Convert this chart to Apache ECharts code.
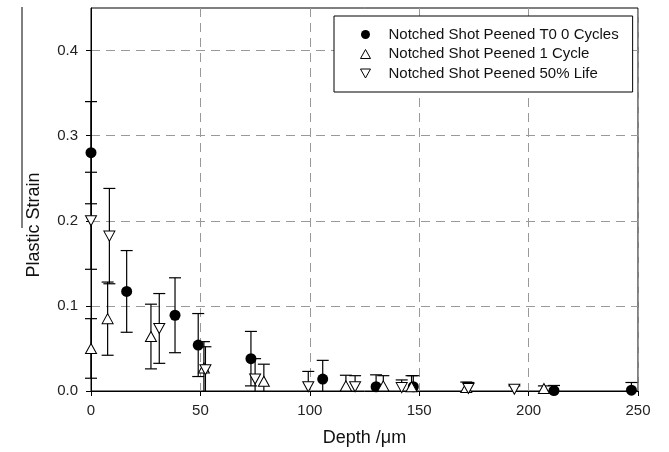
<!DOCTYPE html>
<html>
<head>
<meta charset="utf-8">
<script src="https://cdn.jsdelivr.net/npm/echarts@6/dist/echarts.min.js"></script>
<style>
  html, body { margin: 0; padding: 0; background: #fff; }
  #chart { width: 669px; height: 452px; }
</style>
</head>
<body>
<div id="chart"></div>
<script>
// Notched Shot Peened T0 0 Cycles
const t0Depth  = [0, 16.3, 38.4, 49, 73.1, 105.9, 130.3, 147.3, 211.6, 247];
const t0Strain = [0.280, 0.117, 0.089, 0.054, 0.038, 0.014, 0.005, 0.005, 0.0005, 0.001];
const t0Err    = [0.060, 0.048, 0.044, 0.037, 0.032, 0.022, 0.014, 0.013, 0.006, 0.009];

// Notched Shot Peened 1 Cycle
const cyc1Depth  = [0, 7.6, 27.4, 51.6, 79, 116.5, 133.6, 146.5, 171.5, 207];
const cyc1Strain = [0.050, 0.085, 0.064, 0.027, 0.0115, 0.006, 0.006, 0.005, 0.004, 0.003];
const cyc1Err    = [0.035, 0.043, 0.038, 0.031, 0.020, 0.0125, 0.012, 0.013, 0.0065, 0.003];

// Notched Shot Peened 50% Life
const lifeDepth  = [0, 8.4, 31.2, 52.3, 75, 99.3, 120.7, 142, 172.5, 193.5];
const lifeStrain = [0.200, 0.182, 0.0735, 0.025, 0.014, 0.005, 0.005, 0.004, 0.003, 0.002];
const lifeErr    = [0.057, 0.056, 0.041, 0.027, 0.024, 0.018, 0.013, 0.009, 0.007, 0.004];

const seriesNames = ['Notched Shot Peened T0 0 Cycles', 'Notched Shot Peened 1 Cycle', 'Notched Shot Peened 50% Life'];
const yTicks = [0, 0.1, 0.2, 0.3, 0.4];

const font = 'Arial, "Liberation Sans", sans-serif';
const upTri = 'path://M5,0 L10,9 L0,9 Z';
const downTri = 'path://M0,0 L10,0 L5,9 Z';

function points(xs, ys) {
    return xs.map((x, i) => [x, ys[i]]);
}
function errRows(xs, ys, es) {
    return xs.map((x, i) => [x, ys[i], es[i]]);
}

// error bars, lower half cut off at the x axis
function renderErr(params, api) {
    const x = api.value(0), y = api.value(1), e = api.value(2);
    const low = Math.max(0, y - e);
    const top = api.coord([x, y + e]);
    const bot = api.coord([x, low]);
    const half = 6;
    const style = { stroke: '#000', lineWidth: 1.2 };
    const kids = [
        { type: 'line', shape: { x1: top[0], y1: top[1], x2: bot[0], y2: bot[1] }, style: style },
        { type: 'line', shape: { x1: top[0] - half, y1: top[1], x2: top[0] + half, y2: top[1] }, style: style }
    ];
    if (y - e > 0) {
        kids.push({ type: 'line', shape: { x1: bot[0] - half, y1: bot[1], x2: bot[0] + half, y2: bot[1] }, style: style });
    }
    return { type: 'group', children: kids };
}

function errSeries(rows) {
    return {
        type: 'custom',
        renderItem: renderErr,
        data: rows,
        encode: { x: 0, y: 1 },
        clip: false,
        z: 1,
        silent: true
    };
}

const chart = echarts.init(document.getElementById('chart'));
chart.setOption({
    animation: false,
    backgroundColor: '#fff',
    grid: {
        left: 91, right: 31, top: 8, bottom: 61,
        show: true, borderColor: '#000', borderWidth: 1
    },
    legend: {
        orient: 'vertical',
        left: 334, top: 16,
        padding: [11, 14, 11, 26],
        backgroundColor: '#fff',
        borderColor: '#000',
        borderWidth: 1,
        itemWidth: 10,
        itemHeight: 9,
        itemGap: 4.5,
        textStyle: { fontSize: 15, color: '#111', fontFamily: font, padding: [0, 0, 0, 13] },
        data: [
            { name: seriesNames[0], icon: 'circle', itemStyle: { color: '#000', borderWidth: 0 } },
            { name: seriesNames[1], icon: upTri, itemStyle: { color: '#fff', borderColor: '#000', borderWidth: 1 } },
            { name: seriesNames[2], icon: downTri, itemStyle: { color: '#fff', borderColor: '#000', borderWidth: 1 } }
        ]
    },
    xAxis: {
        type: 'value',
        min: 0, max: 250, interval: 50,
        name: 'Depth /\u03bcm',
        nameLocation: 'middle',
        nameGap: 38,
        nameTextStyle: { fontSize: 18, color: '#111', fontFamily: font },
        axisLine: { onZero: false, lineStyle: { color: '#000', width: 1 } },
        axisTick: { show: true, length: 5, lineStyle: { color: '#000' } },
        axisLabel: { margin: 12, fontSize: 15, color: '#222', fontFamily: font },
        splitLine: { show: true, lineStyle: { color: '#999', type: [9, 6], width: 1 } }
    },
    yAxis: {
        type: 'value',
        min: 0, max: 0.45, interval: 0.1,
        axisLine: { onZero: false, lineStyle: { color: '#000', width: 1 } },
        axisTick: { show: true, length: 5, lineStyle: { color: '#000' }, customValues: yTicks },
        axisLabel: {
            margin: 13, fontSize: 15, color: '#222', fontFamily: font,
            customValues: yTicks,
            formatter: v => v.toFixed(1)
        },
        splitLine: { show: true, lineStyle: { color: '#999', type: [9, 6], width: 1 } }
    },
    graphic: [
        {
            type: 'text',
            x: 34, y: 225,
            rotation: Math.PI / 2,
            style: {
                text: 'Plastic Strain',
                fontSize: 18, fill: '#111', fontFamily: font,
                textAlign: 'center', textVerticalAlign: 'middle'
            }
        },
        {
            type: 'line',
            shape: { x1: 22, y1: 7, x2: 22, y2: 228 },
            style: { stroke: '#000', lineWidth: 1 }
        }
    ],
    series: [
        errSeries(errRows(t0Depth, t0Strain, t0Err)),
        errSeries(errRows(cyc1Depth, cyc1Strain, cyc1Err)),
        errSeries(errRows(lifeDepth, lifeStrain, lifeErr)),
        {
            name: seriesNames[0],
            type: 'scatter',
            symbol: 'circle',
            symbolSize: 11,
            itemStyle: { color: '#000', opacity: 1 },
            data: points(t0Depth, t0Strain),
            clip: false,
            z: 3
        },
        {
            name: seriesNames[1],
            type: 'scatter',
            symbol: 'triangle',
            symbolSize: [11, 10],
            itemStyle: { color: '#fff', borderColor: '#000', borderWidth: 1, opacity: 1 },
            data: points(cyc1Depth, cyc1Strain),
            clip: false,
            z: 3
        },
        {
            name: seriesNames[2],
            type: 'scatter',
            symbol: 'triangle',
            symbolRotate: 180,
            symbolSize: [11, 10],
            itemStyle: { color: '#fff', borderColor: '#000', borderWidth: 1, opacity: 1 },
            data: points(lifeDepth, lifeStrain),
            clip: false,
            z: 3
        }
    ]
});
</script>
</body>
</html>
